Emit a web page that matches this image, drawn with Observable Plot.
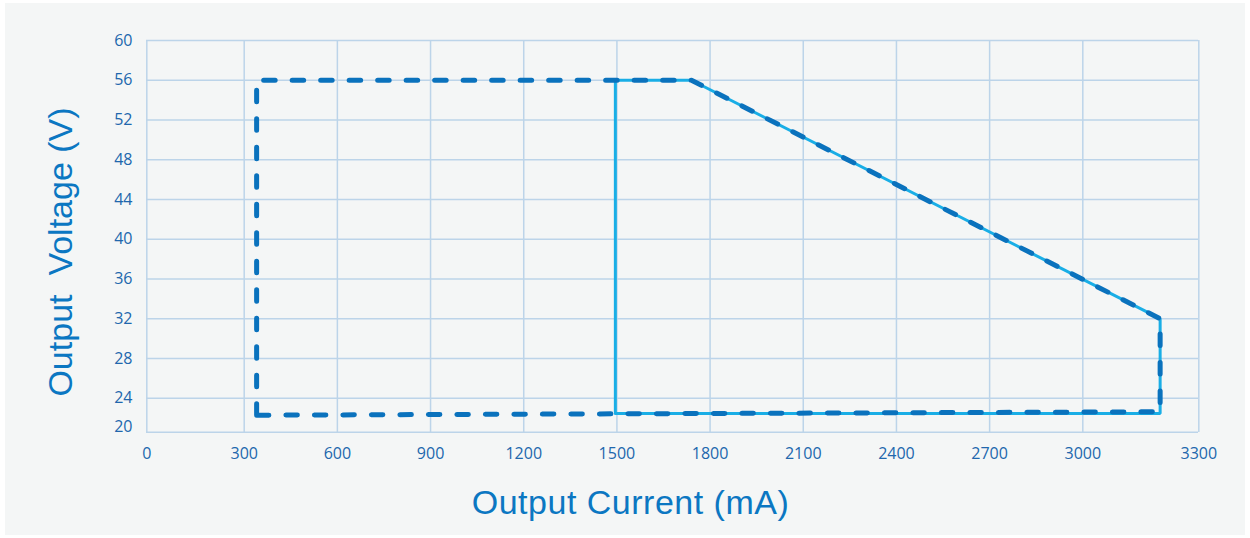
<!DOCTYPE html>
<html>
<head>
<meta charset="utf-8">
<script src="https://cdn.jsdelivr.net/npm/d3@7"></script>
<script src="https://cdn.jsdelivr.net/npm/@observablehq/plot@0.6"></script>
<style>
  html, body { margin: 0; padding: 0; background: #ffffff; }
  #wrap { position: relative; width: 1250px; height: 538px; overflow: hidden; }
  #bg { position: absolute; left: 5px; top: 3px; width: 1240px; height: 532px; background: #f4f6f6; }
  #chart { position: absolute; left: 0; top: 0; }
  #chart svg { background: transparent !important; }
  .xtitle text { letter-spacing: 0.5px; }
</style>
</head>
<body>
<div id="wrap"><div id="bg"></div><div id="chart"></div></div>
<script>
// Data
const xTicks = [0, 300, 600, 900, 1200, 1500, 1800, 2100, 2400, 2700, 3000, 3300];
const yTicks = [20, 24, 28, 32, 36, 40, 44, 48, 52, 56, 60];

// Solid curve (light blue)
const solidCurrent = [1495, 1495, 1740, 3200, 3200, 1495];
const solidVoltage = [22.2, 56, 56, 32, 22.2, 22.2];

// Dashed curve (dark blue)
const dashedCurrent = [340, 340, 1740, 3200, 3200, 340];
const dashedVoltage = [22.0, 56, 56, 32, 22.4, 22.0];

const xTitle = "Output Current (mA)";
const yTitle = "Output\u00a0 Voltage (V)";

const solid = solidCurrent.map((c, i) => ({current: c, voltage: solidVoltage[i]}));
const dashed = dashedCurrent.map((c, i) => ({current: c, voltage: dashedVoltage[i]}));

const gridColor = "#bcd4e9";
const tickColor = "#2167ad";
const titleColor = "#0b77c2";

const chart = Plot.plot({
  width: 1250,
  height: 538,
  marginLeft: 146,
  marginRight: 52,
  marginTop: 40,
  marginBottom: 106,
  style: {background: "transparent", fontFamily: "'Open Sans', sans-serif"},
  x: {type: "linear", domain: [0, 300, 3000, 3300], range: [146.3, 243.7, 1082.3, 1198.3]},
  y: {type: "linear", domain: [20, 24, 60], range: [431.7, 397.7, 40]},
  marks: [
    Plot.gridX(xTicks, {stroke: gridColor, strokeOpacity: 1, strokeWidth: 1.5}),
    Plot.gridY(yTicks, {stroke: gridColor, strokeOpacity: 1, strokeWidth: 1.5}),
    Plot.axisX(xTicks, {tickSize: 0, tickPadding: 15, fontSize: 16, fill: tickColor, label: null, tickFormat: d => String(d)}),
    Plot.axisY(yTicks.filter(d => d !== 20), {tickSize: 0, tickPadding: 14, fontSize: 16, fill: tickColor, label: null}),
    Plot.axisY([20], {tickSize: 0, tickPadding: 14, dy: -5, fontSize: 16, fill: tickColor, label: null}),
    Plot.line(solid, {x: "current", y: "voltage", stroke: "#19aee6", strokeWidth: 3, strokeLinejoin: "miter"}),
    Plot.line(dashed, {x: "current", y: "voltage", stroke: "#0a72bd", strokeWidth: 5, strokeDasharray: "11.5,17", strokeLinecap: "round", strokeLinejoin: "round"}),
    Plot.text([xTitle], {className: "xtitle", frameAnchor: "bottom", textAnchor: "middle", lineAnchor: "middle", dx: -42, dy: 71, text: d => d, fontSize: 34, fill: titleColor, fontFamily: "'Liberation Sans', Arial, sans-serif"}),
    Plot.text([yTitle], {frameAnchor: "left", textAnchor: "middle", lineAnchor: "middle", dx: -85, dy: 15.5, rotate: -90, text: d => d, fontSize: 34, fill: titleColor, fontFamily: "'Liberation Sans', Arial, sans-serif"})
  ]
});
document.getElementById("chart").appendChild(chart);
</script>
</body>
</html>
